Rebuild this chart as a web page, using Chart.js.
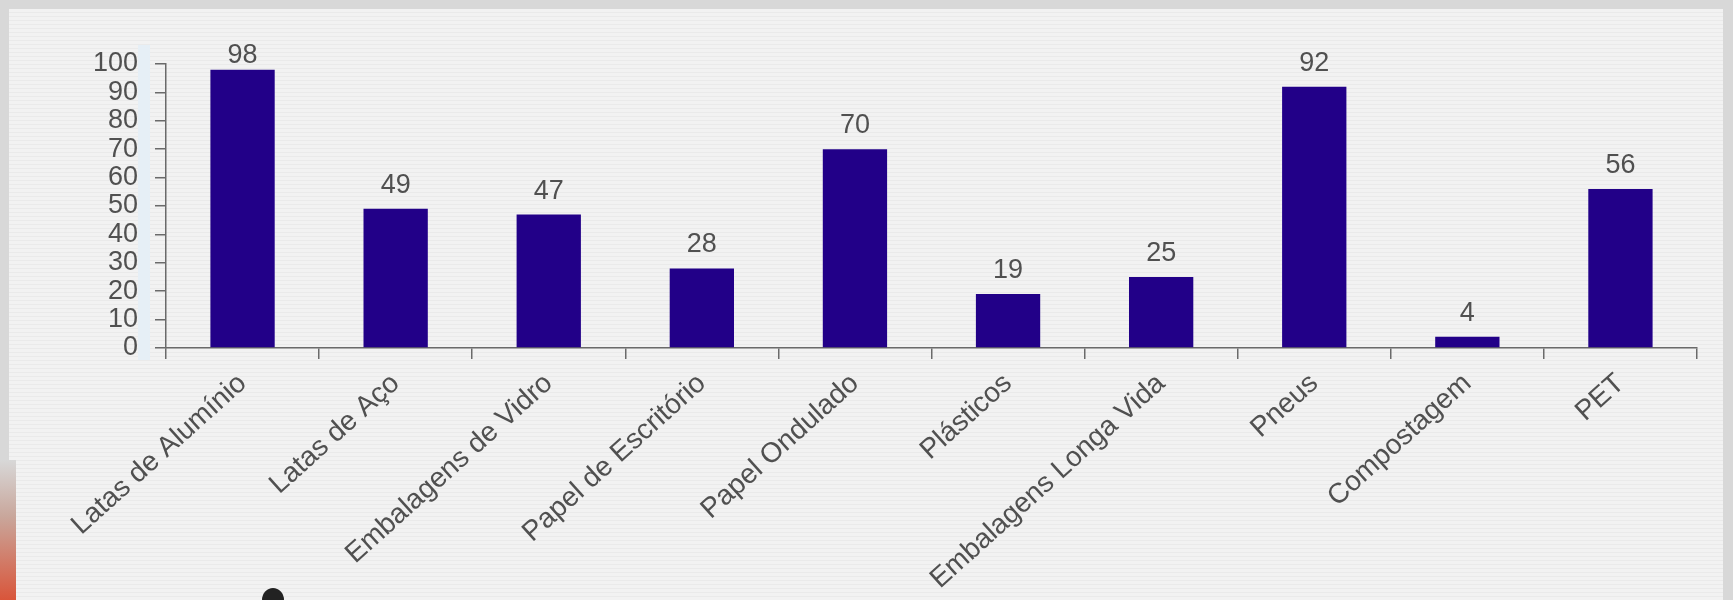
<!DOCTYPE html>
<html>
<head>
<meta charset="utf-8">
<script src="https://cdn.jsdelivr.net/npm/chart.js@4/dist/chart.umd.min.js"></script>
<style>
  html, body { margin: 0; padding: 0; }
  body { width: 1733px; height: 600px; background: #d8d8d8; position: relative; overflow: hidden; }
  #panel {
    position: absolute; left: 9px; top: 9px; width: 1714px; height: 591px;
    background: repeating-linear-gradient(#f2f2f2 0px, #f2f2f2 3px, #eaeaea 3px, #eaeaea 4px);
  }
  #strip { position: absolute; left: 138px; top: 45px; width: 12px; height: 315px; background: #e6eff6; }
  #edge {
    position: absolute; left: 0; top: 460px; width: 16px; height: 140px;
    background: linear-gradient(#d8d8d8, #c9a79c 40%, #d9553a);
  }
  #blob { position: absolute; left: 262px; top: 588px; width: 22px; height: 24px; border-radius: 50%; background: #222; }
  #wrap { position: absolute; left: 0; top: 0; width: 1733px; height: 600px; }
</style>
</head>
<body>
<div id="panel"></div>
<div id="strip"></div>
<div id="edge"></div>
<div id="blob"></div>
<div id="wrap"><canvas id="chart-area" width="1733" height="600"></canvas></div>
<script>
'use strict';

var categories = ['Latas de Alumínio', 'Latas de Aço', 'Embalagens de Vidro', 'Papel de Escritório',
   'Papel Ondulado', 'Plásticos', 'Embalagens Longa Vida', 'Pneus', 'Compostagem', 'PET'];
var values = [98, 49, 47, 28, 70, 19, 25, 92, 4, 56];
var yTicks = [0, 10, 20, 30, 40, 50, 60, 70, 80, 90, 100];

var barColor = '#220088';
var textColor = '#505050';
var axisColor = '#6a6a6a';

// draws the value above each bar, kept inside the plot area
var valueLabels = {
   id: 'valueLabels',
   afterDatasetsDraw: function (chart) {
      var ctx = chart.ctx;
      var meta = chart.getDatasetMeta(0);
      var top = chart.chartArea.top;
      ctx.save();
      ctx.font = '27px "Liberation Sans", Arial, sans-serif';
      ctx.fillStyle = textColor;
      ctx.textAlign = 'center';
      ctx.textBaseline = 'alphabetic';
      meta.data.forEach(function (bar, i) {
         var y = Math.max(bar.y - 16, top - 1);
         ctx.fillText(String(values[i]), bar.x, y);
      });
      ctx.restore();
   }
};

var config = {
   type: 'bar',
   data: {
      labels: categories,
      datasets: [{
         data: values,
         backgroundColor: barColor,
         barPercentage: 0.42,
         categoryPercentage: 1
      }]
   },
   options: {
      responsive: false,
      animation: false,
      layout: { padding: { left: 0, right: 36, top: 64, bottom: 0 } },
      plugins: { legend: { display: false }, tooltip: { enabled: false } },
      scales: {
         x: {
            grid: { drawOnChartArea: false, offset: true, tickLength: 11, color: axisColor, lineWidth: 1.5 },
            border: { color: axisColor, width: 1.5 },
            ticks: {
               autoSkip: false, minRotation: 42, maxRotation: 42, padding: 8,
               color: textColor,
               font: { family: '"Liberation Sans", Arial, sans-serif', size: 28 }
            },
            afterFit: function (scale) { scale.height = 252; }
         },
         y: {
            min: 0, max: 100,
            afterBuildTicks: function (scale) {
               scale.ticks = yTicks.map(function (v) { return { value: v }; });
            },
            grid: { drawOnChartArea: false, tickLength: 11, color: axisColor, lineWidth: 1.5 },
            border: { color: axisColor, width: 1.5 },
            ticks: {
               autoSkip: false, padding: 17, color: textColor,
               font: { family: '"Liberation Sans", Arial, sans-serif', size: 27 }
            },
            afterFit: function (scale) { scale.width = 166; }
         }
      }
   },
   plugins: [valueLabels]
};

window.onload = function () {
   var ctx = document.getElementById('chart-area').getContext('2d');
   window.myBar = new Chart(ctx, config);
};
</script>
</body>
</html>
